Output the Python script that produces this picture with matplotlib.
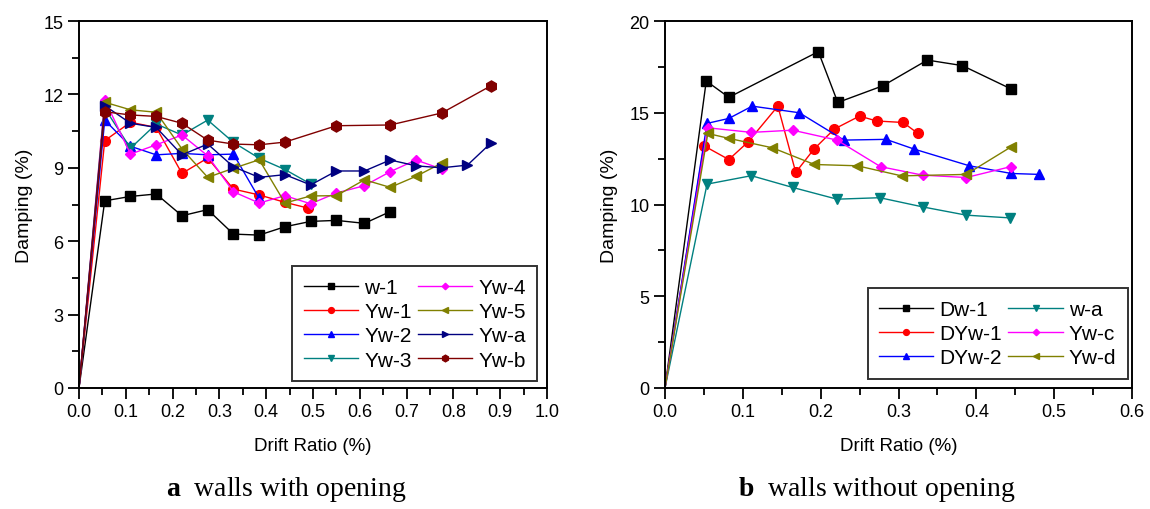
import numpy as np
import matplotlib
matplotlib.use("Agg")
import matplotlib.pyplot as plt
from matplotlib.ticker import MultipleLocator

plt.rcParams['font.family'] = ['Liberation Sans', 'DejaVu Sans']
plt.rcParams['mathtext.fontset'] = 'custom'
plt.rcParams['mathtext.bf'] = 'Liberation Serif:bold'
plt.rcParams['mathtext.rm'] = 'Liberation Serif'

# (a) walls with opening
w1_x = [0, 0.055, 0.11, 0.165, 0.22, 0.275, 0.33, 0.385, 0.44, 0.495, 0.55, 0.61, 0.665]
w1_y = [0, 7.65, 7.83, 7.93, 7.04, 7.29, 6.29, 6.25, 6.59, 6.81, 6.85, 6.73, 7.21]
yw1_x = [0, 0.055, 0.11, 0.165, 0.22, 0.275, 0.33, 0.385, 0.44, 0.49]
yw1_y = [0, 10.11, 10.86, 10.65, 8.77, 9.40, 8.13, 7.89, 7.59, 7.35]
yw2_x = [0, 0.055, 0.11, 0.165, 0.22, 0.275, 0.33, 0.385]
yw2_y = [0, 10.95, 9.88, 9.53, 9.59, 9.53, 9.56, 7.75]
yw3_x = [0, 0.055, 0.11, 0.165, 0.22, 0.275, 0.33, 0.385, 0.44, 0.495]
yw3_y = [0, 11.43, 9.80, 10.79, 10.34, 10.95, 10.04, 9.39, 8.93, 8.34]
yw4_x = [0, 0.055, 0.11, 0.165, 0.22, 0.275, 0.33, 0.385, 0.44, 0.495, 0.55, 0.61, 0.665, 0.72, 0.775]
yw4_y = [0, 11.78, 9.56, 9.94, 10.34, 9.49, 8.02, 7.56, 7.86, 7.53, 7.97, 8.27, 8.84, 9.32, 8.95]
yw5_x = [0, 0.055, 0.11, 0.165, 0.22, 0.275, 0.33, 0.385, 0.44, 0.495, 0.55, 0.61, 0.665, 0.72, 0.775]
yw5_y = [0, 11.68, 11.37, 11.27, 9.77, 8.61, 8.98, 9.33, 7.56, 7.85, 7.86, 8.51, 8.20, 8.65, 9.19]
ywa_x = [0, 0.055, 0.11, 0.165, 0.22, 0.275, 0.33, 0.385, 0.44, 0.495, 0.55, 0.61, 0.665, 0.72, 0.775, 0.83, 0.88]
ywa_y = [0, 11.54, 10.82, 10.65, 9.53, 9.97, 9.04, 8.61, 8.72, 8.30, 8.87, 8.87, 9.32, 9.08, 9.00, 9.11, 10.01]
ywb_x = [0, 0.055, 0.11, 0.165, 0.22, 0.275, 0.33, 0.385, 0.44, 0.55, 0.665, 0.775, 0.88]
ywb_y = [0, 11.29, 11.16, 11.10, 10.82, 10.13, 9.97, 9.94, 10.05, 10.72, 10.75, 11.24, 12.35]

# (b) walls without opening
dw1_x = [0, 0.053, 0.082, 0.197, 0.222, 0.280, 0.337, 0.382, 0.445]
dw1_y = [0, 16.73, 15.84, 18.33, 15.56, 16.47, 17.87, 17.57, 16.29]
dyw1_x = [0, 0.050, 0.082, 0.107, 0.145, 0.168, 0.191, 0.2175, 0.250, 0.272, 0.306, 0.325]
dyw1_y = [0, 13.20, 12.45, 13.42, 15.36, 11.75, 13.00, 14.11, 14.82, 14.55, 14.47, 13.87]
dyw2_x = [0, 0.054, 0.082, 0.112, 0.1725, 0.230, 0.284, 0.320, 0.391, 0.445, 0.481]
dyw2_y = [0, 14.42, 14.69, 15.36, 15.00, 13.51, 13.55, 13.02, 12.11, 11.69, 11.64]
wa_x = [0, 0.054, 0.111, 0.164, 0.221, 0.276, 0.331, 0.387, 0.443]
wa_y = [0, 11.11, 11.57, 10.93, 10.29, 10.37, 9.87, 9.42, 9.27]
ywc_x = [0, 0.055, 0.111, 0.164, 0.221, 0.277, 0.331, 0.387, 0.444]
ywc_y = [0, 14.18, 13.93, 14.05, 13.51, 12.06, 11.60, 11.47, 12.06]
ywd_x = [0, 0.055, 0.0825, 0.138, 0.192, 0.247, 0.304, 0.387, 0.445]
ywd_y = [0, 13.87, 13.60, 13.09, 12.18, 12.11, 11.56, 11.64, 13.15]

series_a = [
    ("w-1", w1_x, w1_y, "black", "s"),
    ("Yw-1", yw1_x, yw1_y, "#FF0000", "o"),
    ("Yw-2", yw2_x, yw2_y, "#0000FF", "^"),
    ("Yw-3", yw3_x, yw3_y, "#008080", "v"),
    ("Yw-4", yw4_x, yw4_y, "#FF00FF", "D"),
    ("Yw-5", yw5_x, yw5_y, "#808000", "<"),
    ("Yw-a", ywa_x, ywa_y, "#000080", ">"),
    ("Yw-b", ywb_x, ywb_y, "#800000", "h"),
]
series_b = [
    ("Dw-1", dw1_x, dw1_y, "black", "s"),
    ("DYw-1", dyw1_x, dyw1_y, "#FF0000", "o"),
    ("DYw-2", dyw2_x, dyw2_y, "#0000FF", "^"),
    ("w-a", wa_x, wa_y, "#008080", "v"),
    ("Yw-c", ywc_x, ywc_y, "#FF00FF", "D"),
    ("Yw-d", ywd_x, ywd_y, "#808000", "<"),
]

fig = plt.figure(figsize=(11.5, 5.1), dpi=100)
ax1 = fig.add_axes([79 / 1150, 121 / 510, 468 / 1150, 367 / 510])
ax2 = fig.add_axes([665 / 1150, 121 / 510, 467 / 1150, 367 / 510])


def style(ax, xmax, xmajor, ymax, ymajor):
    ax.set_xlim(0, xmax)
    ax.set_ylim(0, ymax)
    ax.xaxis.set_major_locator(MultipleLocator(xmajor))
    ax.xaxis.set_minor_locator(MultipleLocator(xmajor / 2))
    ax.yaxis.set_major_locator(MultipleLocator(ymajor))
    ax.yaxis.set_minor_locator(MultipleLocator(ymajor / 2))
    ax.tick_params(which='major', direction='out', length=8, width=1.3, labelsize=13, pad=3)
    ax.tick_params(which='minor', direction='out', length=5, width=1.3)
    for s in ax.spines.values():
        s.set_linewidth(1.4)
    ax.xaxis.set_major_formatter(plt.FormatStrFormatter('%.1f'))
    ax.yaxis.set_major_formatter(plt.FormatStrFormatter('%d'))
    ax.set_xlabel("Drift Ratio (%)", fontsize=13.5, labelpad=12)
    ax.set_ylabel("Damping (%)", fontsize=14, labelpad=8)


for ax, series in [(ax1, series_a), (ax2, series_b)]:
    for name, x, y, c, m in series:
        ms = 7 if m != "D" else 5.5
        if m == "h":
            ms = 8
        ax.plot(x, y, color=c, marker=m, markersize=ms, lw=1.0, label=name,
                markevery=list(range(1, len(x))), clip_on=False)

style(ax1, 1.0, 0.1, 15, 3)
style(ax2, 0.6, 0.1, 20, 5)

leg_kw = dict(ncol=2, fontsize=15, frameon=True, fancybox=False, edgecolor='black',
              handlelength=2.6, columnspacing=0.3, handletextpad=0.3, labelspacing=0.25,
              markerscale=0.6, borderpad=0.55, borderaxespad=0)
l1 = ax1.legend(loc='lower right', bbox_to_anchor=(0.979, 0.019), **leg_kw)
l1.get_frame().set_linewidth(1.4)
l2 = ax2.legend(loc='lower right', bbox_to_anchor=(0.991, 0.025), **leg_kw)
l2.get_frame().set_linewidth(1.4)

fig.text(286 / 1150, 1 - 490 / 510, r"$\mathbf{a}$  walls with opening", family='Liberation Serif',
         fontsize=20, ha='center', va='center')
fig.text(877 / 1150, 1 - 490 / 510, r"$\mathbf{b}$  walls without opening", family='Liberation Serif',
         fontsize=20, ha='center', va='center')

fig.savefig("out.png", dpi=100)
